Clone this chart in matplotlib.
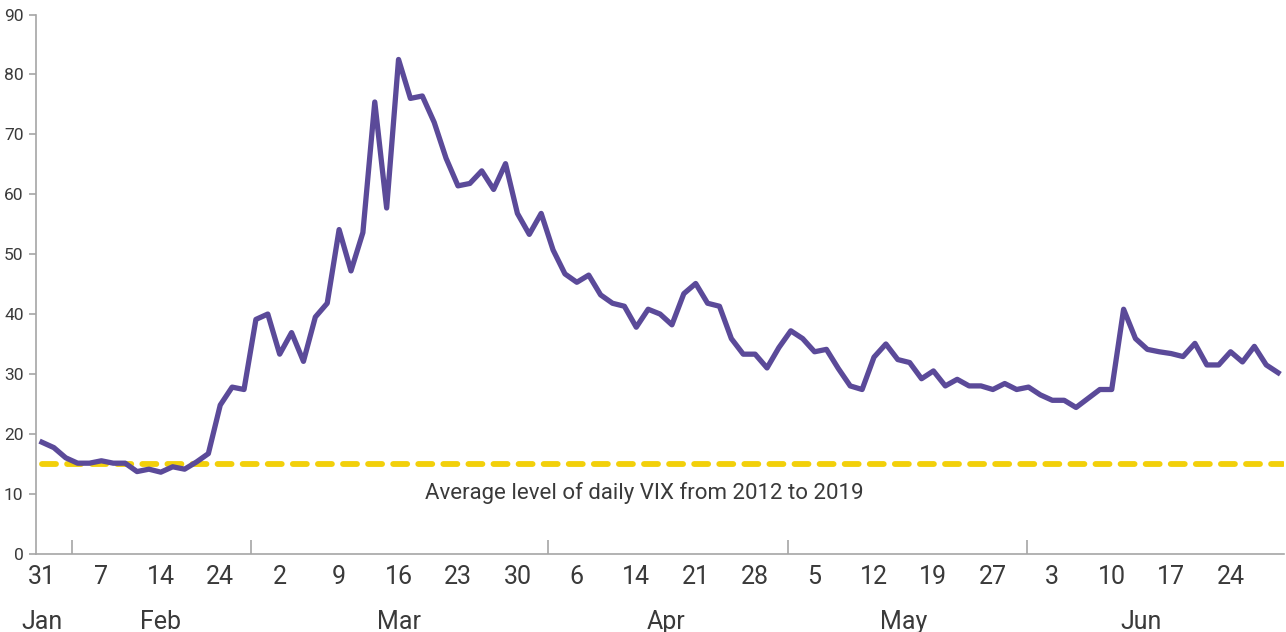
import numpy as np
import matplotlib.pyplot as plt

plt.rcParams["font.family"] = ["Roboto", "DejaVu Sans"]

## data: daily VIX close, trading days 31 Jan - 30 Jun
vix = [
    18.6, 17.7, 16.0, 15.1, 15.1, 15.5, 15.1, 15.1, 13.7, 14.1,   # Jan 31 - Feb 13
    13.6, 14.5, 14.1, 15.3, 16.7, 24.8, 27.8, 27.4, 39.1, 40.0,   # Feb 14 - Feb 28
    33.3, 36.9, 32.1, 39.5, 41.8, 54.1, 47.2, 53.6, 75.4, 57.7,   # Mar 2 - Mar 13
    82.5, 76.0, 76.4, 72.0, 66.0, 61.4, 61.8, 63.9, 60.8, 65.1,   # Mar 16 - Mar 27
    56.8, 53.3, 56.8, 50.7, 46.7, 45.3, 46.5, 43.2, 41.8, 41.3,   # Mar 30 - Apr 13
    37.8, 40.8, 40.0, 38.2, 43.4, 45.1, 41.8, 41.3, 35.9, 33.3,   # Apr 14 - Apr 27
    33.3, 31.0, 34.4, 37.2, 35.9, 33.7, 34.1, 30.9, 28.0, 27.4,   # Apr 28 - May 11
    32.8, 35.0, 32.4, 31.9, 29.2, 30.5, 28.0, 29.1, 28.0, 28.0,   # May 12 - May 26
    27.4, 28.4, 27.4, 27.8, 26.5, 25.6, 25.6, 24.4, 25.9, 27.4,   # May 27 - Jun 9
    27.4, 40.8, 35.9, 34.1, 33.7, 33.4, 32.9, 35.1, 31.5, 31.5,   # Jun 10 - Jun 23
    33.7, 32.0, 34.6, 31.5, 30.2,                                 # Jun 24 - Jun 30
]
avg_vix = 15.0  # average daily VIX 2012-2019

day_labels = ["31", "7", "14", "24", "2", "9", "16", "23", "30", "6", "14",
              "21", "28", "5", "12", "19", "27", "3", "10", "17", "24"]
month_labels = ["Jan", "Feb", "Mar", "Apr", "May", "Jun"]
month_label_pos = [0, 10, 30, 52.5, 72.5, 92.5]
month_breaks = [2.5, 17.6, 42.6, 62.8, 82.9]

purple = "#5b4a99"
yellow = "#f2d00a"
axis_grey = "#a6a6a6"
text_col = "#3a3a3a"

##
x = np.arange(len(vix))

fig = plt.figure(figsize=(12.86, 6.32), dpi=100)
ax = fig.add_axes([0.028, 0.124, 0.9705, 0.853])

ax.plot([x[0], x[-1] + 0.4], [avg_vix, avg_vix], color=yellow, lw=4.2,
        ls=(0, (2.4, 1.9)), dash_capstyle="round", zorder=2)
ax.plot(x, vix, color=purple, lw=3.8, zorder=3)

ax.text(50.7, 10.1, "Average level of daily VIX from 2012 to 2019",
        ha="center", va="center", fontsize=16, color=text_col)

ax.set_xlim(-0.5, 104.5)
ax.set_ylim(0, 90)

for side in ["top", "right"]:
    ax.spines[side].set_visible(False)
for side in ["left", "bottom"]:
    ax.spines[side].set_color(axis_grey)
    ax.spines[side].set_linewidth(1.2)

ax.set_yticks(np.arange(0, 91, 10))
ax.tick_params(axis="y", direction="out", length=5, width=1.2, color=axis_grey,
               labelsize=12.5, labelcolor=text_col, pad=4)

ax.set_xticks(np.arange(0, 5 * len(day_labels), 5))
ax.set_xticklabels(day_labels)
ax.tick_params(axis="x", which="major", length=0, labelsize=18,
               labelcolor=text_col, pad=8)
ax.set_xticks(month_breaks, minor=True)
ax.tick_params(axis="x", which="minor", direction="in", length=10, width=1.2,
               color=axis_grey)

trans = ax.get_xaxis_transform()
for pos, lab in zip(month_label_pos, month_labels):
    ax.text(pos, -0.126, lab, transform=trans, ha="center", va="center",
            fontsize=18, color=text_col)

fig.savefig("out.png", dpi=100)
